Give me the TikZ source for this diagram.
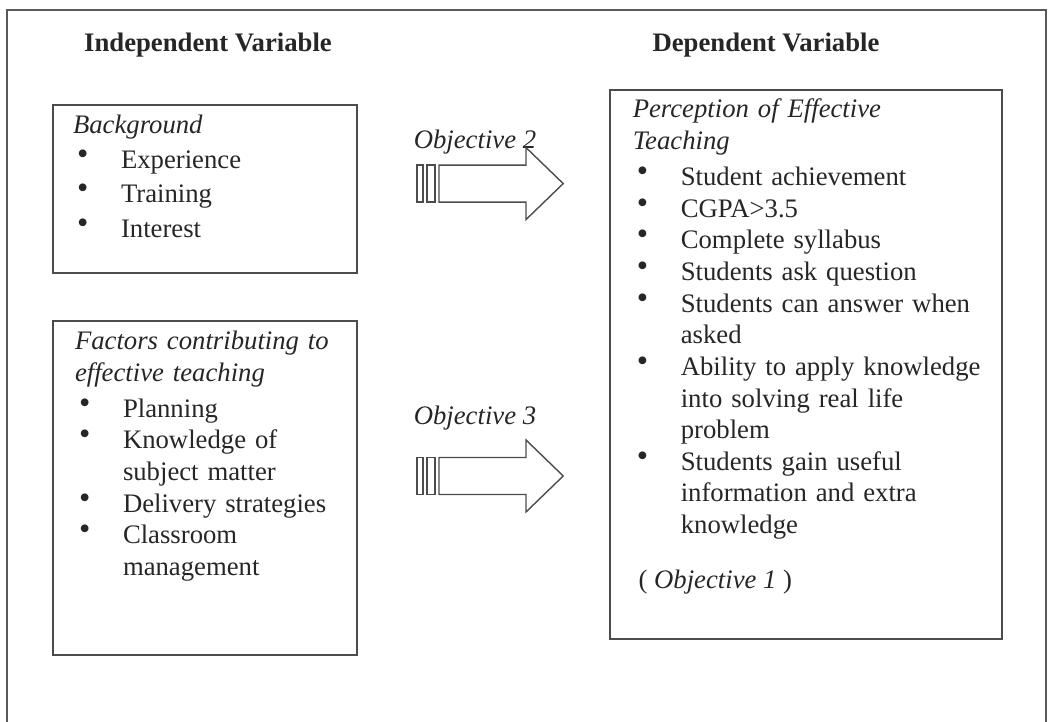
\documentclass[tikz,border=0pt]{standalone}
\usepackage{fontspec}
\setmainfont{Liberation Serif}
\usetikzlibrary{positioning}

% bullet line with hanging indent
\newcommand{\itm}{\par\noindent\hangindent=1.2cm\hangafter=1\hspace*{0.1cm}%
  \makebox[1.1cm][l]{\smash{\raisebox{0.15em}{\fontsize{23}{23}\selectfont\textbullet}}}}

\begin{document}
\begin{tikzpicture}[
        line width=1.3pt,
        every node/.style={font=\fontsize{19}{22.5}\selectfont, text=black!85},
        box/.style={draw=black!70, inner sep=0pt},
        list/.style={align=left, inner sep=0pt, text width=#1},
        head/.style={font=\fontsize{19}{22.5}\selectfont\bfseries}
    ]
    \useasboundingbox (0,0) rectangle (26.2,18.05);

    % Outer frame
    \draw[black!65] (0.175,0) -- (0.175,17.8) -- (26.15,17.8) -- (26.15,0);

    % Column titles
    \node[head] (indep) at (5.2,16.93) {Independent Variable};
    \node[head] (dep-title) at (19.15,16.93) {Dependent Variable};

    % Boxes
    \node[box, minimum width=7.6cm, minimum height=4.2cm] (bg) at (5.125,13.325) {};
    \node[box, minimum width=7.6cm, minimum height=8.35cm] (fac) at (5.125,5.85) {};
    \node[box, minimum width=9.8cm, minimum height=13.725cm] (dep) at (20.15,8.9375) {};

    % Box texts
    \node[list=7cm, below right=0.25cm and 0.5cm of bg.north west,
          font=\fontsize{19}{24.6}\selectfont] (bg-text) {%
      \textit{Background}
      \itm Experience
      \itm Training
      \itm Interest\par};
    \node[list=7cm, below right=0.26cm and 0.55cm of fac.north west] (fac-text) {%
      \textit{Factors contributing to}\newline\textit{effective teaching}\par\vspace{0.1cm}
      \itm Planning
      \itm Knowledge of\newline subject matter
      \itm Delivery strategies
      \itm Classroom\newline management\par};
    \node[list=9.2cm, below right=0.22cm and 0.57cm of dep.north west] (dep-text) {%
      \textit{Perception of Effective}\newline\textit{Teaching}\par\vspace{0.12cm}
      \itm Student achievement
      \itm CGPA>3.5
      \itm Complete syllabus
      \itm Students ask question
      \itm Students can answer when\newline asked
      \itm Ability to apply knowledge\newline into solving real life\newline problem
      \itm Students gain useful\newline information and extra\newline knowledge\par};
    \node[anchor=base west] (obj1) at (15.825,3.33) {( \textit{Objective 1} )};

    % Objective labels
    \node (obj2) at (11.875,14.5) {\textit{Objective 2}};
    \node (obj3) at (11.875,7.6) {\textit{Objective 3}};

    % Block arrows
    \foreach \y in {13.46,6.15} {
      \draw[black!70, line width=1pt]
        (10.425,\y-0.4625) rectangle (10.575,\y+0.4625)
        (10.675,\y-0.4625) rectangle (10.875,\y+0.4625);
      \draw[black!70, line width=1pt]
        (10.975,\y-0.4625) -- (13.15,\y-0.4625) -- (13.15,\y-0.9)
        -- (14.08,\y) -- (13.15,\y+0.9) -- (13.15,\y+0.4625)
        -- (10.975,\y+0.4625) -- cycle;
    }
\end{tikzpicture}
\end{document}
